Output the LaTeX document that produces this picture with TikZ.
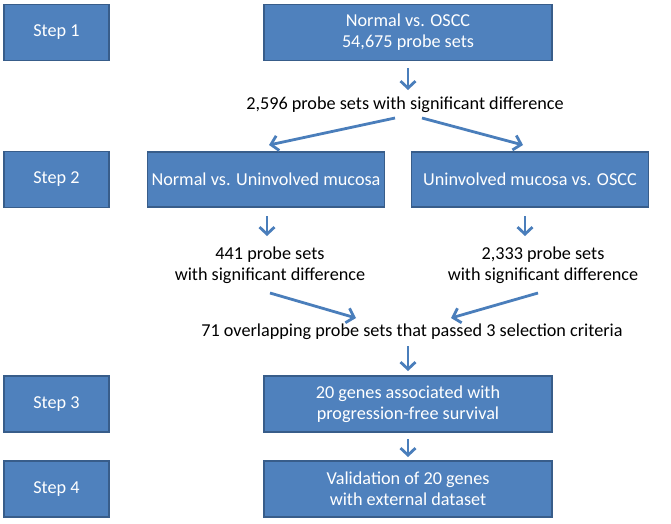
\documentclass[tikz,border=0pt]{standalone}
\usepackage{fontspec}
\setmainfont{Carlito}
\usetikzlibrary{arrows.meta,calc}
\definecolor{boxfill}{HTML}{4F81BD}
\definecolor{boxline}{HTML}{385D8A}
\definecolor{arrcol}{HTML}{4A7EBB}
\begin{document}
\begin{tikzpicture}[x=1pt,y=-1pt,
  bluebox/.style={draw=boxline,line width=1.2pt,fill=boxfill,text=white,
    font=\fontsize{18.2}{21}\selectfont,align=center,inner sep=0pt},
  stepbox/.style={bluebox,minimum width=105pt,minimum height=56pt},
  mainbox/.style={bluebox,minimum width=288pt,minimum height=56pt},
  midbox/.style={bluebox,minimum width=237pt,minimum height=55pt},
  plain/.style={font=\fontsize{18.2}{21}\selectfont,align=center,inner sep=0pt,text=black},
  arr/.style={draw=arrcol,line width=2.8pt,-{Straight Barb[length=7pt,width=15pt]}}
]
\useasboundingbox (0,0) rectangle (671,523);
\fill[white] (0,0) rectangle (671,523);

\node[stepbox] (s1) at (56.5,32.5) {Step 1};
\node[stepbox] (s2) at (56.5,179.5) {Step 2};
\node[stepbox] (s3) at (56.5,404) {Step 3};
\node[stepbox] (s4) at (56.5,489) {Step 4};

\node[mainbox] (top) at (408,32.5) {Normal vs. OSCC\\54,675 probe sets};
\node[plain] (t1) at (405,105) {2,596 probe sets with significant difference};
\node[midbox] (L2) at (266,179.5) {Normal vs. Uninvolved mucosa};
\node[midbox] (R2) at (530,179.5) {Uninvolved mucosa vs. OSCC};
\node[plain] (tL) at (270,265) {441 probe sets\\with significant difference};
\node[plain] (tR) at (543,265) {2,333 probe sets\\with significant difference};
\node[plain] (t71) at (412,332) {71 overlapping probe sets that passed 3 selection criteria};
\node[mainbox] (B3) at (408,404) {20 genes associated with\\progression-free survival};
\node[mainbox] (B4) at (408,489) {Validation of 20 genes\\with external dataset};

\coordinate (a1s) at (408,68);
\coordinate (a1e) at (408,90);
\draw[arr] (a1s) -- (a1e);

\coordinate (dls) at (395,118);
\coordinate (dle) at (269,145);
\coordinate (drs) at (422,118);
\coordinate (dre) at (523,145);
\draw[arr] (dls) -- (dle);
\draw[arr] (drs) -- (dre);

\coordinate (lds) at (267,216);
\coordinate (lde) at (267,236);
\coordinate (rds) at (525,216);
\coordinate (rde) at (525,236);
\draw[arr] (lds) -- (lde);
\draw[arr] (rds) -- (rde);

\coordinate (cls) at (270,293);
\coordinate (cle) at (356,318);
\coordinate (crs) at (538,293);
\coordinate (cre) at (451,318);
\draw[arr] (cls) -- (cle);
\draw[arr] (crs) -- (cre);

\coordinate (d3s) at (408,346);
\coordinate (d3e) at (408,371);
\draw[arr] (d3s) -- (d3e);

\coordinate (d4s) at (408,439);
\coordinate (d4e) at (408,457);
\draw[arr] (d4s) -- (d4e);
\end{tikzpicture}
\end{document}
